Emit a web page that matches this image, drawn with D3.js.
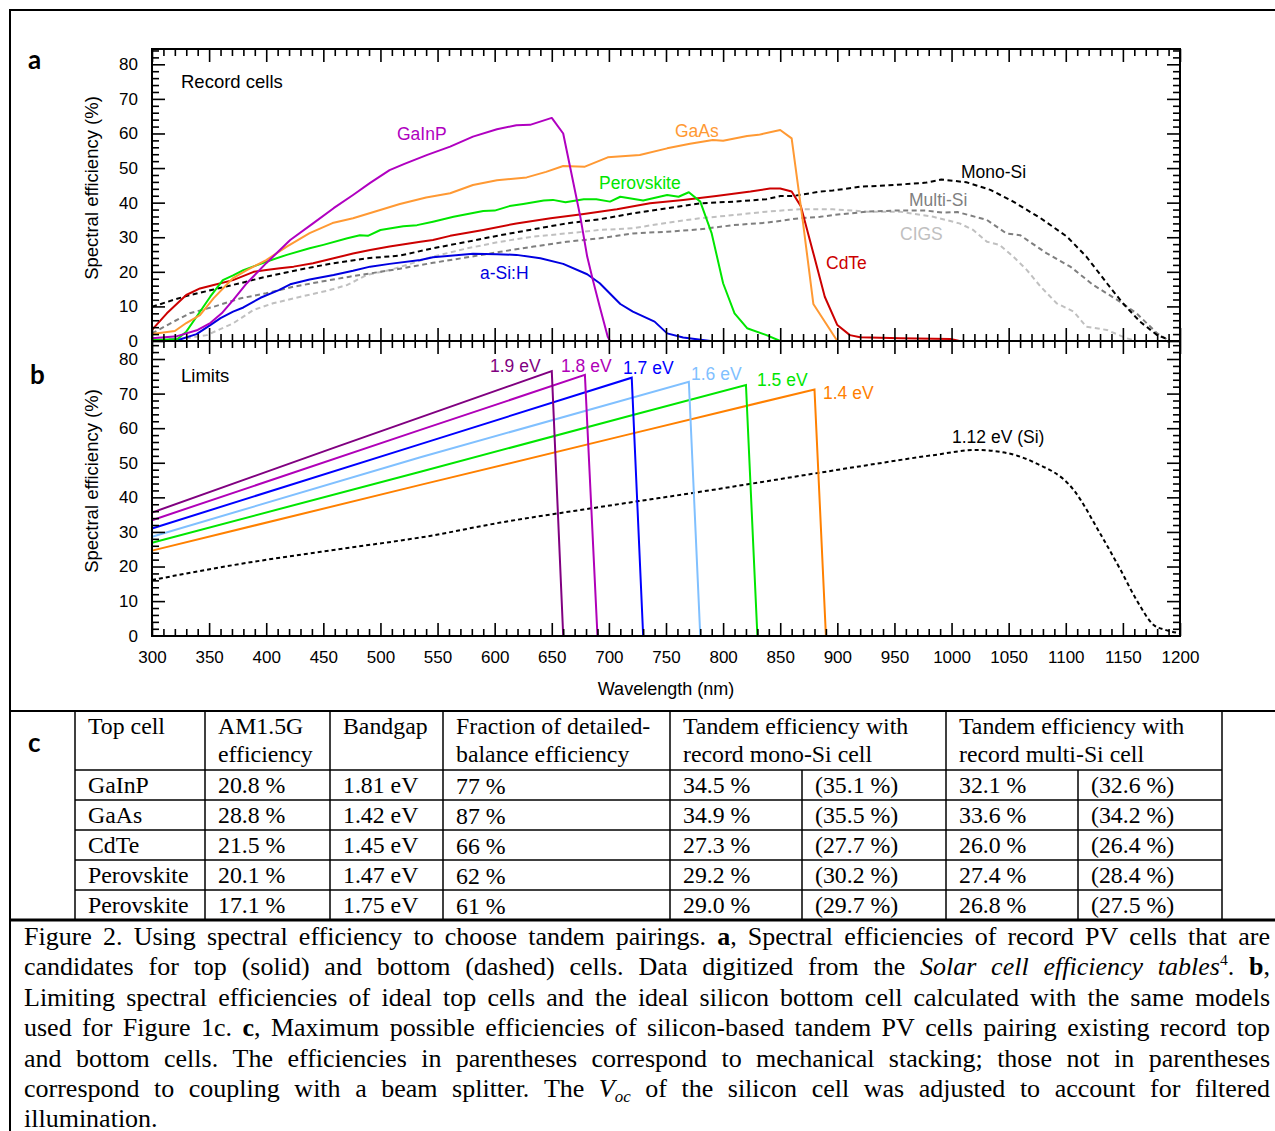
<!DOCTYPE html>
<html><head><meta charset="utf-8">
<script src="https://cdn.jsdelivr.net/npm/d3@7"></script>
<style>body{margin:0;background:#fff}svg{display:block}</style>
</head><body>
<svg id="fig" width="1275" height="1131"></svg>
<script>
// ---------------- DATA ----------------
const xTickLabels = [300,350,400,450,500,550,600,650,700,750,800,850,900,950,1000,1050,1100,1150,1200];
const yTickLabels = [0,10,20,30,40,50,60,70,80];

// Panel a: record cells [wavelength nm, spectral efficiency %]
const gainp = [[300,0.8],[322,1.4],[340,3.2],[351,5.2],[361,8],[371,11.8],[383,16.7],[400,22.5],[421,29.2],[441,34],[459,38.4],[476,42.2],[491,45.7],[508,49.4],[521,51.2],[541,53.8],[561,56.2],[581,59.1],[602,61.2],[619,62.4],[631,62.5],[650,64.5],[660,60],[666,50.4],[675,35.9],[681,24.4],[686,17.6],[692,9.9],[699,1.2],[701,0]];
const gaas = [[300,2],[320,2.9],[330,5.2],[342,7.5],[354,12.4],[371,18.2],[383,20.5],[400,23.4],[418,27.3],[438,31.2],[458,34.1],[476,35.5],[494,37.3],[517,39.6],[540,41.5],[561,42.7],[581,45.1],[602,46.5],[628,47.3],[645,48.9],[660,50.6],[679,50.4],[699,53.1],[727,53.8],[751,55.7],[771,57],[791,58.1],[800,57.9],[821,59.3],[831,59.6],[850,61],[860,58.6],[870,34.1],[879,10.7],[900,0]];
const perovskite = [[300,0.3],[322,0.5],[330,2.7],[339,7],[351,12.8],[362,17.6],[371,19],[380,20.5],[400,22.9],[418,24.9],[438,26.8],[450,27.8],[471,29.7],[482,30.6],[489,30.4],[500,32.1],[520,33.2],[532,33.5],[546,34.5],[564,35.9],[590,37.6],[600,37.7],[613,39],[625,39.6],[643,40.6],[651,40.8],[662,40.1],[678,41],[689,41],[701,40.3],[710,41.7],[730,40.6],[751,42.2],[761,41.7],[770,43],[780,40.3],[790,31.1],[800,16.7],[810,8],[821,3.7],[838,1.7],[850,0]];
const cdte = [[300,3.2],[313,8],[330,13.3],[342,15.2],[354,16.2],[371,17.6],[389,20],[400,20.5],[412,21],[424,21.5],[441,22.5],[459,23.9],[476,25.3],[491,26.3],[508,27.3],[535,28.7],[546,29.2],[561,30.4],[590,32.1],[619,34],[649,35.5],[678,36.7],[707,38.1],[736,39.8],[765,40.8],[794,41.9],[824,43.2],[841,44.1],[850,44.1],[860,43.2],[868,39],[879,25.4],[889,12.8],[900,4.6],[911,1.7],[920,1.1],[955,0.8],[999,0.6],[1007,0]];
const asih = [[300,0.1],[325,0.5],[339,2],[351,4.6],[360,6.6],[371,8.5],[380,9.7],[395,12.5],[411,14.7],[421,16.4],[438,17.8],[459,19.1],[476,20.3],[491,21.5],[508,22.3],[535,23.4],[546,24.2],[581,25.2],[602,25.1],[619,24.9],[640,23.9],[660,22.3],[681,19.3],[692,16.7],[710,10.7],[721,8.5],[740,5.6],[751,2.2],[765,1],[789,0],[900,0]];
const monoSi = [[300,9.9],[319,11.9],[330,13],[354,14.9],[377,16.7],[400,18.6],[430,20.7],[459,22.5],[488,23.9],[517,24.7],[546,26.8],[576,28.7],[605,30.6],[634,32.3],[663,34],[692,35.2],[721,36.9],[751,38.4],[780,39.8],[809,40.3],[838,41],[850,41.9],[861,41.9],[885,43.2],[896,43.5],[920,44.6],[949,45.1],[978,45.8],[991,46.7],[1013,45.9],[1034,43.7],[1054,40.3],[1078,35.5],[1101,30.2],[1118,24.4],[1136,16.7],[1150,10.9],[1165,5.6],[1180,1.7],[1191,0.3]];
const multiSi = [[300,2.2],[319,5.6],[333,8],[354,9.9],[377,12.3],[400,13.8],[424,15.7],[447,17.1],[473,18.6],[488,19.4],[506,20.3],[517,20.9],[546,22.6],[576,24.2],[605,25.8],[634,27.3],[663,28.7],[692,29.7],[721,31.1],[751,31.6],[780,32.3],[809,33.5],[838,34.2],[867,35.5],[885,35.9],[896,36.4],[926,37.4],[949,37.7],[978,37.7],[993,37.1],[1005,37.3],[1031,35],[1048,31.1],[1060,30.6],[1083,25.4],[1104,21.5],[1124,16.2],[1145,11.9],[1162,8],[1180,2.2],[1191,0]];
const cigs = [[300,0.3],[330,0.8],[348,1.7],[371,5.1],[389,9],[406,10.9],[430,12.8],[453,14.5],[471,16.2],[488,19.1],[508,20.5],[526,22.3],[546,24.4],[576,26.8],[605,28.7],[634,30.2],[663,31.1],[692,32.1],[721,32.6],[751,34.2],[780,35.5],[809,36.4],[838,37.4],[867,38.1],[896,38.1],[926,37.4],[955,37.4],[984,35.9],[1007,34],[1019,32.1],[1031,28.7],[1042,27.8],[1054,24.4],[1066,20.5],[1078,15.7],[1092,10.9],[1107,8.5],[1118,4.1],[1136,3.2],[1153,0.8],[1162,0]];

// Panel b: limits
const lim19 = [[300,35.6],[459,54.3],[650,76.5],[660,0]];
const lim18 = [[300,33.4],[535,59.5],[679,75.4],[690,0]];
const lim17 = [[300,31],[535,55.4],[720,74.6],[730,0]];
const lim16 = [[300,28.6],[535,51.6],[770,73.4],[780,0]];
const lim15 = [[300,26.9],[535,47.4],[721,63.8],[820,72.5],[830,0]];
const lim14 = [[300,24.6],[535,43.6],[721,58.5],[880,71.2],[890,0]];
const limSi = [[300,16.1],[371,20.4],[459,24.8],[517,27.5],[535,28.4],[605,32.7],[692,37.2],[780,41.6],[867,46.2],[926,49.3],[984,52.2],[1022,53.7],[1042,53.2],[1071,50.3],[1107,42.1],[1130,29.6],[1148,19],[1162,10.3],[1177,3.1],[1188,1.6],[1200,0.7]];

// Panel c: table
const headers = [["Top cell"],["AM1.5G","efficiency"],["Bandgap"],["Fraction of detailed-","balance efficiency"],["Tandem efficiency with","record mono-Si cell"],["Tandem efficiency with","record multi-Si cell"]];
const topCells = ["GaInP","GaAs","CdTe","Perovskite","Perovskite"];
const am15g = ["20.8 %","28.8 %","21.5 %","20.1 %","17.1 %"];
const bandgaps = ["1.81 eV","1.42 eV","1.45 eV","1.47 eV","1.75 eV"];
const fractions = ["77 %","87 %","66 %","62 %","61 %"];
const monoSplitter = ["34.5 %","34.9 %","27.3 %","29.2 %","29.0 %"];
const monoStacked = ["(35.1 %)","(35.5 %)","(27.7 %)","(30.2 %)","(29.7 %)"];
const multiSplitter = ["32.1 %","33.6 %","26.0 %","27.4 %","26.8 %"];
const multiStacked = ["(32.6 %)","(34.2 %)","(26.4 %)","(28.4 %)","(27.5 %)"];

const captionLines = [
 "Figure 2. Using spectral efficiency to choose tandem pairings. {b:a}, Spectral efficiencies of record PV cells that are",
 "candidates for top (solid) and bottom (dashed) cells. Data digitized from the {i:Solar} {i:cell} {i:efficiency} {i:tables}{sup:4}. {b:b},",
 "Limiting spectral efficiencies of ideal top cells and the ideal silicon bottom cell calculated with the same models",
 "used for Figure 1c. {b:c}, Maximum possible efficiencies of silicon-based tandem PV cells pairing existing record top",
 "and bottom cells. The efficiencies in parentheses correspond to mechanical stacking; those not in parentheses",
 "correspond to coupling with a beam splitter. The {i:V}{isub:oc} of the silicon cell was adjusted to account for filtered",
 "illumination."
];

// ---------------- DRAW ----------------
const SANS = "'Liberation Sans', Arial, sans-serif";
const SERIF = "'Liberation Serif', 'Times New Roman', serif";
const svg = d3.select('#fig');
svg.append('rect').attr('width',1275).attr('height',1131).attr('fill','#fff');

const X0 = 152, X1 = 1180, A_TOP = 49, MID = 341, B_BOT = 636;
const x = d3.scaleLinear().domain([300,1200]).range([X0,X1]);
const yA = d3.scaleLinear().domain([0,80]).range([341,64.3]);
const yB = d3.scaleLinear().domain([0,80]).range([635.7,359]);

const minorX = d3.range(300,1201,10).filter(v => v % 50 !== 0);
const minorY = d3.range(0,85,2).filter(v => v % 10 !== 0);

function styleAxis(g){
  g.select('.domain').remove();
  g.selectAll('line').attr('stroke','#000').attr('stroke-width',1.6);
  g.attr('font-family',SANS).attr('font-size',17);
  g.selectAll('text').attr('fill','#000');
}
function xAxisPair(yPos, gen, labels){
  svg.append('g').attr('transform',`translate(0,${yPos})`)
    .call(gen(x).tickValues(xTickLabels).tickSize(-13).tickPadding(15).tickFormat(labels ? d3.format('d') : ''))
    .call(styleAxis);
  svg.append('g').attr('transform',`translate(0,${yPos})`)
    .call(gen(x).tickValues(minorX).tickSize(-7).tickFormat(''))
    .call(styleAxis);
}
function yAxisPair(yScale){
  svg.append('g').attr('transform',`translate(${X0},0)`)
    .call(d3.axisLeft(yScale).tickValues(yTickLabels).tickSize(-13).tickPadding(14).tickFormat(d3.format('d')))
    .call(styleAxis);
  svg.append('g').attr('transform',`translate(${X0},0)`)
    .call(d3.axisLeft(yScale).tickValues(minorY).tickSize(-7).tickFormat(''))
    .call(styleAxis);
  svg.append('g').attr('transform',`translate(${X1},0)`)
    .call(d3.axisRight(yScale).tickValues(yTickLabels).tickSize(-13).tickFormat(''))
    .call(styleAxis);
  svg.append('g').attr('transform',`translate(${X1},0)`)
    .call(d3.axisRight(yScale).tickValues(minorY).tickSize(-7).tickFormat(''))
    .call(styleAxis);
}

const lineA = d3.line().x(d => x(d[0])).y(d => yA(d[1]));
const lineB = d3.line().x(d => x(d[0])).y(d => yB(d[1]));
const lineBs = d3.line().x(d => x(d[0])).y(d => yB(d[1])).curve(d3.curveMonotoneX);

const seriesA = [
  {d: cigs, c:'#c0c0c0', dash:'5,3.5'},
  {d: multiSi, c:'#7f7f7f', dash:'5,3.5'},
  {d: monoSi, c:'#000', dash:'5,3.5'},
  {d: asih, c:'#0000e0'},
  {d: cdte, c:'#cc0000'},
  {d: perovskite, c:'#00e600'},
  {d: gaas, c:'#ff9933'},
  {d: gainp, c:'#b000c0'}
];
seriesA.forEach(s => svg.append('path').attr('d', lineA(s.d)).attr('fill','none')
  .attr('stroke', s.c).attr('stroke-width', 2).attr('stroke-dasharray', s.dash || null).attr('stroke-linejoin','round'));

const seriesB = [
  {d: limSi, c:'#000', dash:'4,3', smooth:true},
  {d: lim14, c:'#ff8000'},
  {d: lim15, c:'#00e600'},
  {d: lim16, c:'#80c0ff'},
  {d: lim17, c:'#0000ff'},
  {d: lim18, c:'#b000b8'},
  {d: lim19, c:'#800080'}
];
seriesB.forEach(s => svg.append('path').attr('d', (s.smooth ? lineBs : lineB)(s.d)).attr('fill','none')
  .attr('stroke', s.c).attr('stroke-width', 2).attr('stroke-dasharray', s.dash || null));

xAxisPair(A_TOP, d3.axisTop, false);
xAxisPair(MID, d3.axisBottom, false);
xAxisPair(MID, d3.axisTop, false);
xAxisPair(B_BOT, d3.axisBottom, true);
yAxisPair(yA);
yAxisPair(yB);
svg.append('rect').attr('x',X0).attr('y',A_TOP).attr('width',X1-X0).attr('height',MID-A_TOP)
  .attr('fill','none').attr('stroke','#000').attr('stroke-width',2);
svg.append('rect').attr('x',X0).attr('y',MID).attr('width',X1-X0).attr('height',B_BOT-MID)
  .attr('fill','none').attr('stroke','#000').attr('stroke-width',2);

function t(txt, xx, yy, opt={}){
  return svg.append('text').attr('x',xx).attr('y',yy).text(txt)
    .attr('font-family', opt.ff || SANS).attr('font-size', opt.fs || 17)
    .attr('fill', opt.c || '#000').attr('font-weight', opt.fw || null)
    .attr('text-anchor', opt.a || 'start');
}
t('Spectral efficiency (%)', 0, 0, {a:'middle', fs:18.5}).attr('transform','translate(98,188) rotate(-90)');
t('Spectral efficiency (%)', 0, 0, {a:'middle', fs:18.5}).attr('transform','translate(98,481) rotate(-90)');
t('Wavelength (nm)', 666, 695, {a:'middle', fs:18});
t('Record cells', 181, 88, {fs:18.5});
t('Limits', 181, 382, {fs:18.5});

const LFS = 17.5;
t('GaInP', 397, 140, {c:'#b000c0', fs:LFS});
t('GaAs', 675, 137, {c:'#ff9933', fs:LFS});
t('Perovskite', 599, 189, {c:'#00e600', fs:LFS});
t('a-Si:H', 480, 279, {c:'#0000e0', fs:LFS});
t('Mono-Si', 961, 178, {c:'#000', fs:LFS});
t('Multi-Si', 909, 206, {c:'#7f7f7f', fs:LFS});
t('CIGS', 900, 240, {c:'#c0c0c0', fs:LFS});
t('CdTe', 826, 269, {c:'#cc0000', fs:LFS});
t('1.9 eV', 490, 372, {c:'#800080', fs:LFS});
t('1.8 eV', 561, 372, {c:'#b000b8', fs:LFS});
t('1.7 eV', 623, 374, {c:'#0000ff', fs:LFS});
t('1.6 eV', 691, 380, {c:'#80c0ff', fs:LFS});
t('1.5 eV', 757, 386, {c:'#00e600', fs:LFS});
t('1.4 eV', 823, 399, {c:'#ff8000', fs:LFS});
t('1.12 eV (Si)', 952, 443, {c:'#000', fs:LFS});

const LET = "Lato, 'Open Sans', sans-serif";
t('a', 28, 69, {ff:LET, fs:26, fw:'bold'});
t('b', 30, 384, {ff:LET, fs:26, fw:'bold'});
t('c', 28, 752, {ff:LET, fs:26, fw:'bold'});

function ln(x1,y1,x2,y2,w){ svg.append('line').attr('x1',x1).attr('y1',y1).attr('x2',x2).attr('y2',y2).attr('stroke','#000').attr('stroke-width',w); }
ln(10,10,1275,10,2);
ln(10,9,10,1131,2);
ln(10,711,1275,711,2);
ln(10,920,1275,920,3);

// Table
const colX = [75,205,330,443,670,802,946,1078,1222];
const rowY = [770,800,830,860,890,919];
const TFS = 23.8;
rowY.slice(0,5).forEach(yy => ln(75,yy,1222,yy,1.5));
colX.forEach((cx,i) => {
  if (i === 5 || i === 7) ln(cx,770,cx,919,1.5);
  else ln(cx,711,cx,919,1.5);
});
const headerCols = [0,1,2,3,4,6];
headers.forEach((h,i) => {
  h.forEach((line,j) => t(line, colX[headerCols[i]]+13, 734 + j*28, {ff:SERIF, fs:TFS}));
});
const cols = [topCells, am15g, bandgaps, fractions, monoSplitter, monoStacked, multiSplitter, multiStacked];
cols.forEach((col,ci) => col.forEach((v,ri) => t(v, colX[ci]+13, rowY[ri]+23 + (ci===3?1:0), {ff:SERIF, fs:TFS})));

// Caption (justified)
const CFS = 26, CL = 24, CR = 1270;
function parseWord(w){
  const segs = []; const re = /\{(b|i|sup|isub):([^}]*)\}/g; let last = 0, m;
  while ((m = re.exec(w))){ if (m.index > last) segs.push({t:w.slice(last,m.index)}); segs.push({t:m[2], k:m[1]}); last = re.lastIndex; }
  if (last < w.length) segs.push({t:w.slice(last)});
  return segs;
}
function makeWord(segs, yy){
  const el = svg.append('text').attr('y',yy).attr('font-family',SERIF).attr('font-size',CFS).attr('fill','#000');
  let shift = 0;
  segs.forEach(s => {
    const ts = el.append('tspan').text(s.t);
    let target = 0;
    if (s.k === 'b') ts.attr('font-weight','bold');
    if (s.k === 'i') ts.attr('font-style','italic');
    if (s.k === 'sup'){ ts.attr('font-size',CFS*0.6); target = -10; }
    if (s.k === 'isub'){ ts.attr('font-size',CFS*0.65).attr('font-style','italic'); target = 5; }
    if (target !== shift){ ts.attr('dy', target - shift); shift = target; }
  });
  return el;
}
captionLines.forEach((line,li) => {
  const yy = 945 + li*30.4;
  const words = line.split(' ').map(w => makeWord(parseWord(w), yy));
  const widths = words.map(w => w.node().getComputedTextLength());
  const total = d3.sum(widths);
  const last = li === captionLines.length-1;
  const gap = last ? CFS*0.25 : (CR-CL-total)/(words.length-1);
  let cx = CL;
  words.forEach((w,i) => { w.attr('x',cx); w.selectAll('tspan').filter((d,j)=>j===0).attr('x',cx); cx += widths[i] + gap; });
});
</script>
</body></html>
